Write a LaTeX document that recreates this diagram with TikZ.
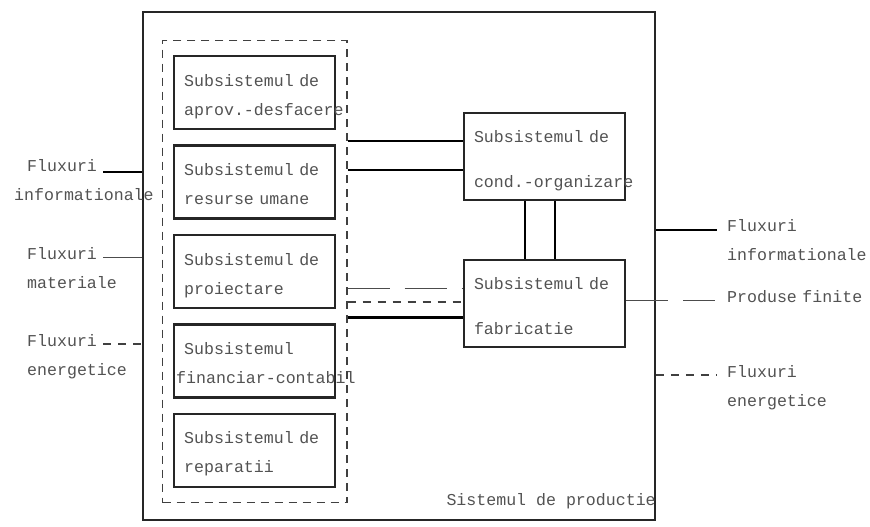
\documentclass[tikz,border=0pt]{standalone}
\usepackage{fontspec}
\usepackage{tikz}
\usetikzlibrary{positioning,fit}

\newfontfamily\diafont{Liberation Mono}
\newcommand\diasize{\diafont\fontsize{16.6pt}{29pt}\selectfont}

\tikzset{
  note/.style={font=\diasize, text=black!68, inner sep=0pt},
  lbl/.style={note, text width=150pt, align=left, anchor=base west},
  subbox/.style={draw=black!85, line width=2.4pt, font=\diasize, text=black!68,
                 text width=141pt, align=left, inner xsep=10pt, inner ysep=0pt,
                 text height=30pt, text depth=43pt},
  condbox/.style={subbox, line width=2.2pt, text height=29pt, text depth=58pt},
  grupbox/.style={draw=black!75, line width=1.3pt, dash pattern=on 8pt off 6pt},
  infoflow/.style={line width=2.8pt},
  matflow/.style={line width=1pt, black!70},
  enflow/.style={line width=1.3pt, black!75, dash pattern=on 8pt off 7pt},
  prodflow/.style={line width=1pt, black!70, dash pattern=on 42pt off 15pt}
}

\begin{document}
\begin{tikzpicture}[x=1pt, y=-1pt]
\useasboundingbox (0,0) rectangle (870,527);

% sistemul de productie
\node[draw=black!85, line width=1.8pt, minimum width=512pt, minimum height=508pt,
      inner sep=0pt] (sistem) at (399,266) {};
\node[note, anchor=base east] (sistlbl) at ([yshift=15pt]sistem.south east)
  {Sistemul de productie};

% subsisteme
\node[subbox, anchor=north west] (aprov) at (173,55)
  {Subsistemul de\\\mbox{aprov.-desfacere}};
\node[subbox, below=14pt of aprov] (resurse) {Subsistemul de\\resurse umane};
\node[subbox, below=14pt of resurse] (proiect) {Subsistemul de\\proiectare};
\node[subbox, below=14pt of proiect] (financ)
  {Subsistemul\\\hspace*{-8pt}\mbox{financiar-contabil}};
\node[subbox, below=14pt of financ] (repar) {Subsistemul de\\reparatii};
\node[grupbox, fit=(aprov)(repar), inner xsep=10.5pt, inner ysep=14.5pt] (grup) {};

\node[condbox] (cond) at (544.5,156.5) {Subsistemul de\\[16pt]\mbox{cond.-organizare}};
\node[condbox, below=58pt of cond] (fabr) {Subsistemul de\\[16pt]fabricatie};

% legaturi interne
\coordinate (c1) at ([yshift=-29pt]cond.north west);
\coordinate (c2) at ([yshift=-58pt]cond.north west);
\draw[infoflow] (c1 -| grup.east) -- (c1);
\draw[infoflow] (c2 -| grup.east) -- (c2);
\draw[infoflow] ([xshift=-19.5pt]cond.south) -- ([xshift=-19.5pt]fabr.north);
\draw[infoflow] ([xshift=10.5pt]cond.south) -- ([xshift=10.5pt]fabr.north);

\coordinate (f1) at ([yshift=-29pt]fabr.north west);
\coordinate (f2) at ([yshift=-43pt]fabr.north west);
\coordinate (f3) at ([yshift=-58pt]fabr.north west);
\draw[prodflow] (f1 -| grup.east) -- (f1);
\draw[enflow] (f2 -| grup.east) -- (f2);
\draw[infoflow] (f3 -| grup.east) -- (f3);

% intrari
\node[lbl] (fil) at (27,171) {Fluxuri\\\hspace*{-13pt}informationale};
\node[lbl] (fml) at (27,259) {Fluxuri\\materiale};
\node[lbl] (fel) at (27,346) {Fluxuri\\energetice};
\coordinate (fil-e) at ([xshift=76pt,yshift=-1pt]fil.base west);
\coordinate (fml-e) at ([xshift=76pt,yshift=2pt]fml.base west);
\coordinate (fel-e) at ([xshift=76pt,yshift=2pt]fel.base west);
\draw[infoflow] (fil-e) -- (fil-e -| sistem.west);
\draw[matflow] (fml-e) -- (fml-e -| sistem.west);
\draw[enflow] (fel-e) -- (fel-e -| sistem.west);

% iesiri
\node[lbl] (fir) at (727,231) {Fluxuri\\informationale};
\node[lbl] (pfr) at (727,302) {Produse finite};
\node[lbl] (fer) at (727,377) {Fluxuri\\energetice};
\coordinate (fir-w) at ([xshift=-10pt,yshift=1pt]fir.base west);
\coordinate (pfr-w) at ([xshift=-12pt,yshift=2pt]pfr.base west);
\coordinate (fer-w) at ([xshift=-10pt,yshift=2pt]fer.base west);
\draw[infoflow] (fir-w -| sistem.east) -- (fir-w);
\draw[prodflow] (pfr-w -| fabr.east) -- (pfr-w);
\draw[enflow] (fer-w -| sistem.east) -- (fer-w);
\end{tikzpicture}
\end{document}
